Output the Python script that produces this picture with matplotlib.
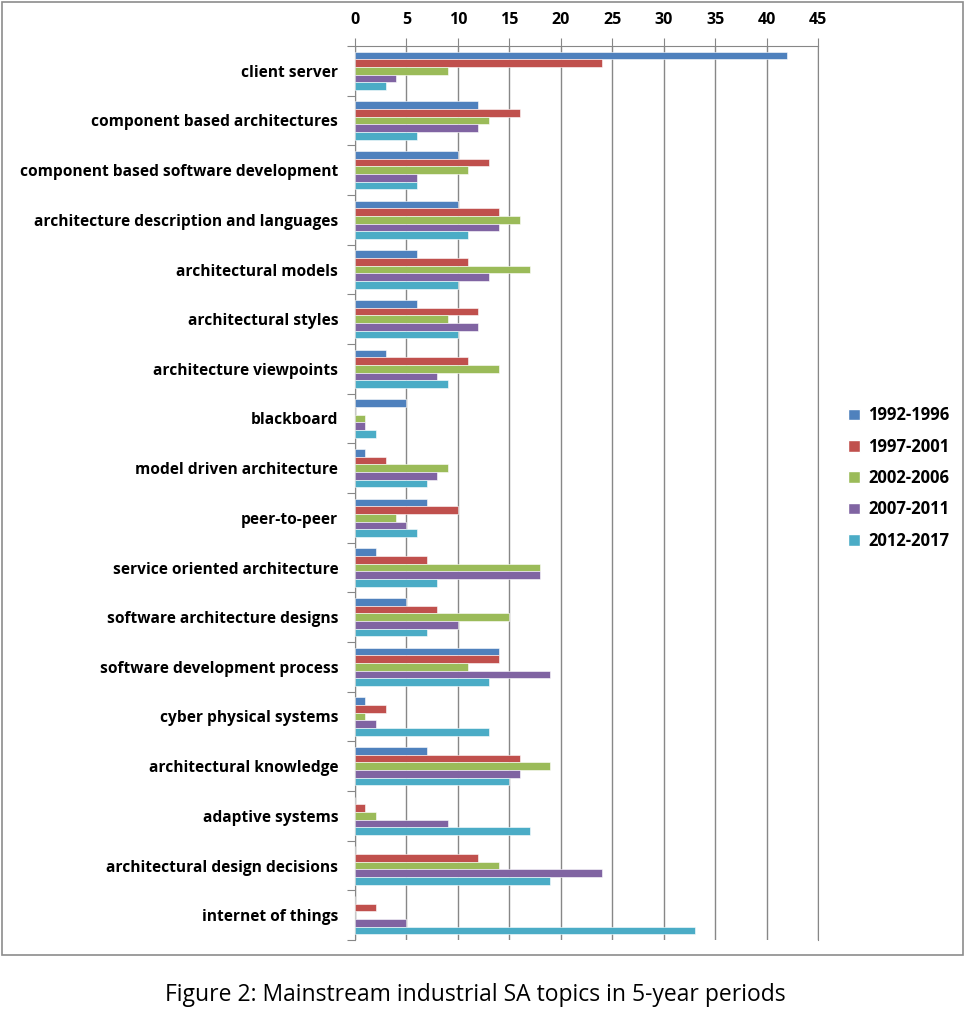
import numpy as np
import matplotlib.pyplot as plt
from matplotlib.patches import Rectangle, Patch

topics = [
    "client server",
    "component based architectures",
    "component based software development",
    "architecture description and languages",
    "architectural models",
    "architectural styles",
    "architecture viewpoints",
    "blackboard",
    "model driven architecture",
    "peer-to-peer",
    "service oriented architecture",
    "software architecture designs",
    "software development process",
    "cyber physical systems",
    "architectural knowledge",
    "adaptive systems",
    "architectural design decisions",
    "internet of things",
]
periods = ["1992-1996", "1997-2001", "2002-2006", "2007-2011", "2012-2017"]

p1992 = [42, 12, 10, 10, 6, 6, 3, 5, 1, 7, 2, 5, 14, 1, 7, 0, 0, 0]
p1997 = [24, 16, 13, 14, 11, 12, 11, 0, 3, 10, 7, 8, 14, 3, 16, 1, 12, 2]
p2002 = [9, 13, 11, 16, 17, 9, 14, 1, 9, 4, 18, 15, 11, 1, 19, 2, 14, 0]
p2007 = [4, 12, 6, 14, 13, 12, 8, 1, 8, 5, 18, 10, 19, 2, 16, 9, 24, 5]
p2012 = [3, 6, 6, 11, 10, 10, 9, 2, 7, 6, 8, 7, 13, 13, 15, 17, 19, 33]

series = [p1992, p1997, p2002, p2007, p2012]
colors = ["#4F81BD", "#C0504D", "#9BBB59", "#8064A2", "#4BACC6"]

plt.rcParams['font.family'] = ['Open Sans', 'DejaVu Sans']

fig = plt.figure(figsize=(9.66, 10.24), dpi=100)
W, H = 966, 1024

# outer chart frame
fig.patches.append(Rectangle((2 / W, 1 - 955 / H), 961 / W, 953 / H,
                             transform=fig.transFigure, fill=False,
                             edgecolor="#8c8c8c", linewidth=1.2))

ax = fig.add_axes([355 / W, 1 - 940 / H, 463 / W, 894 / H])

y = np.arange(len(topics))
h = 0.155
for j, (vals, c) in enumerate(zip(series, colors)):
    ax.barh(y + (j - 2) * h, vals, height=h, color=c,
            edgecolor="white", linewidth=0.4, label=periods[j], zorder=3)

ax.set_xlim(0, 45)
ax.set_ylim(len(topics) - 0.5, -0.5)
ax.xaxis.tick_top()
ax.set_xticks(range(0, 46, 5))
ax.tick_params(axis="x", length=6, color="#878787", labelsize=11.5, pad=7)
for lbl in ax.get_xticklabels():
    lbl.set_fontweight("bold")
ax.grid(axis="x", color="#878787", linewidth=1, zorder=0)

ax.set_yticks(np.arange(-0.5, len(topics), 1))
ax.set_yticklabels([])
ax.set_yticks(y, minor=True)
ax.set_yticklabels(topics, minor=True, fontsize=11.2, fontweight="bold")
ax.tick_params(axis="y", which="major", length=6, color="#878787")
ax.tick_params(axis="y", which="minor", length=0, pad=12)

ax.spines["bottom"].set_visible(False)
for s in ["left", "top", "right"]:
    ax.spines[s].set_color("#878787")

handles = [Patch(facecolor=c, edgecolor="white") for c in colors]
fig.legend(handles, periods, loc="center left",
           bbox_to_anchor=(833 / W, 1 - 478 / H), frameon=False,
           prop={"weight": "bold", "size": 12}, handlelength=0.7,
           handleheight=0.7, handletextpad=0.5, labelspacing=0.8)

fig.text(475 / W, 1 - 995 / H,
         "Figure 2: Mainstream industrial SA topics in 5-year periods",
         ha="center", va="center", fontsize=16.5)

fig.savefig("out.png", dpi=100)
